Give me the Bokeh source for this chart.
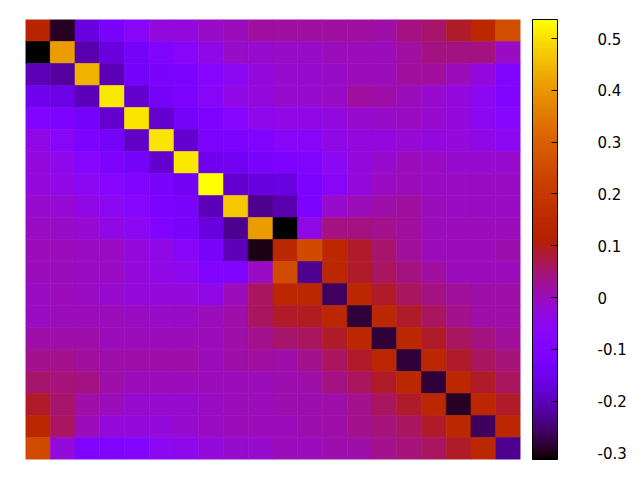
import math
from bokeh.plotting import figure
from bokeh.models import ColumnDataSource, LinearColorMapper, ColorBar, FixedTicker
from bokeh.transform import transform
from bokeh.embed import file_html
from bokeh.resources import INLINE

row00 = [0.13, -0.29, -0.17, -0.12, -0.07, -0.03, -0.03, -0.01, 0.0, 0.02, 0.02, 0.02, 0.02, 0.02, 0.015, 0.04, 0.055, 0.09, 0.14, 0.26]
row01 = [-0.313, 0.41, -0.21, -0.17, -0.13, -0.10, -0.07, -0.04, -0.01, -0.015, -0.01, -0.01, 0.0, 0.0, 0.0, 0.02, 0.04, 0.04, 0.04, -0.005]
row02 = [-0.20, -0.22, 0.44, -0.20, -0.13, -0.12, -0.11, -0.08, -0.055, -0.03, -0.015, -0.015, -0.01, 0.0, 0.0, 0.02, 0.02, 0.0, -0.03, -0.10]
row03 = [-0.15, -0.16, -0.20, 0.51, -0.18, -0.13, -0.11, -0.07, -0.04, -0.03, -0.015, -0.015, -0.01, 0.02, 0.015, 0.0, -0.015, -0.03, -0.055, -0.10]
row04 = [-0.10, -0.11, -0.13, -0.18, 0.505, -0.18, -0.13, -0.11, -0.08, -0.045, -0.04, -0.04, -0.03, -0.015, -0.01, -0.005, -0.015, -0.03, -0.055, -0.08]
row05 = [-0.04, -0.07, -0.11, -0.13, -0.19, 0.505, -0.18, -0.11, -0.11, -0.10, -0.07, -0.07, -0.04, -0.03, -0.03, -0.02, -0.03, -0.025, -0.04, -0.055]
row06 = [-0.03, -0.045, -0.08, -0.11, -0.13, -0.18, 0.51, -0.15, -0.14, -0.12, -0.11, -0.10, -0.055, -0.03, -0.015, 0.0, -0.005, -0.015, -0.015, -0.015]
row07 = [-0.03, -0.04, -0.055, -0.08, -0.10, -0.12, -0.14, 0.537, -0.18, -0.17, -0.165, -0.11, -0.07, -0.03, -0.005, 0.0, -0.005, -0.005, -0.005, -0.005]
row08 = [-0.015, -0.02, -0.04, -0.055, -0.08, -0.11, -0.12, -0.20, 0.47, -0.23, -0.21, -0.11, -0.015, 0.0, 0.015, 0.02, 0.0, -0.005, -0.005, -0.005]
row09 = [-0.005, -0.01, -0.02, -0.04, -0.055, -0.10, -0.12, -0.17, -0.23, 0.41, -0.313, -0.04, 0.04, 0.04, 0.035, 0.02, 0.0, 0.0, 0.0, 0.0]
row10 = [0.0, 0.0, -0.005, -0.005, -0.03, -0.04, -0.07, -0.12, -0.20, -0.30, 0.14, 0.25, 0.14, 0.09, 0.055, 0.025, 0.0, 0.0, 0.0, 0.01]
row11 = [0.0, 0.0, -0.005, -0.005, -0.025, -0.04, -0.05, -0.10, -0.10, -0.005, 0.25, -0.23, 0.14, 0.09, 0.06, 0.04, 0.02, 0.0, 0.0, 0.0]
row12 = [-0.005, 0.0, -0.005, -0.015, -0.025, -0.025, -0.025, -0.04, 0.0, 0.06, 0.14, 0.14, -0.26, 0.14, 0.09, 0.06, 0.04, 0.025, 0.015, 0.015]
row13 = [-0.005, 0.0, 0.0, 0.0, -0.005, -0.01, -0.01, 0.0, 0.015, 0.06, 0.09, 0.095, 0.14, -0.28, 0.14, 0.09, 0.06, 0.035, 0.015, 0.015]
row14 = [0.015, 0.015, 0.015, 0.0, 0.0, 0.0, 0.0, 0.0, 0.015, 0.035, 0.055, 0.06, 0.09, 0.14, -0.28, 0.14, 0.09, 0.06, 0.04, 0.025]
row15 = [0.035, 0.035, 0.02, 0.015, 0.015, 0.015, 0.015, 0.0, 0.015, 0.02, 0.015, 0.035, 0.06, 0.09, 0.14, -0.28, 0.14, 0.09, 0.06, 0.045]
row16 = [0.055, 0.045, 0.04, 0.015, 0.0, 0.0, 0.0, 0.0, 0.0, 0.0, 0.01, 0.015, 0.04, 0.06, 0.09, 0.14, -0.28, 0.14, 0.09, 0.06]
row17 = [0.09, 0.055, 0.015, 0.0, -0.015, -0.015, -0.015, -0.005, 0.0, 0.0, 0.01, 0.01, 0.015, 0.035, 0.06, 0.09, 0.14, -0.29, 0.14, 0.09]
row18 = [0.14, 0.06, 0.0, -0.025, -0.025, -0.025, -0.015, -0.005, 0.0, 0.0, 0.0, 0.01, 0.015, 0.035, 0.045, 0.06, 0.09, 0.14, -0.26, 0.14]
row19 = [0.25, -0.025, -0.10, -0.10, -0.085, -0.055, -0.045, -0.025, -0.015, -0.015, 0.0, 0.0, 0.01, 0.015, 0.035, 0.045, 0.06, 0.09, 0.14, -0.23]

rows = [row00, row01, row02, row03, row04, row05, row06, row07, row08, row09,
        row10, row11, row12, row13, row14, row15, row16, row17, row18, row19]

cb_ticks = [-0.3, -0.2, -0.1, 0.0, 0.1, 0.2, 0.3, 0.4, 0.5]
cb_labels = ["-0.3", "-0.2", "-0.1", "0", "0.1", "0.2", "0.3", "0.4", "0.5"]
cb_low, cb_high = -0.3127, 0.5367

# gnuplot default pm3d palette (rgbformulae 7,5,15)
def gp_color(t):
    r = math.sqrt(t)
    g = t ** 3
    b = max(0.0, math.sin(2 * math.pi * t))
    return "#%02x%02x%02x" % (int(round(r * 255)), int(round(g * 255)), int(round(b * 255)))

palette = [gp_color(i / 255) for i in range(256)]

n = len(rows)
xs, ys, vs = [], [], []
for i, r in enumerate(rows):
    for j, v in enumerate(r):
        xs.append(j + 0.5)
        ys.append(n - i - 0.5)
        vs.append(v)
src = ColumnDataSource(dict(x=xs, y=ys, v=vs))

mapper = LinearColorMapper(palette=palette, low=cb_low, high=cb_high)

p = figure(width=632, height=472, output_backend="svg", toolbar_location=None,
           x_range=(0, n), y_range=(0, n),
           x_axis_location=None, y_axis_location=None,
           min_border_left=25, min_border_right=112, min_border_top=19, min_border_bottom=13)
p.grid.visible = False
p.outline_line_color = None
p.background_fill_color = "white"

p.rect(x="x", y="y", width=1, height=1, source=src,
       fill_color=transform("v", mapper), line_color=transform("v", mapper), line_width=0.6)

cb = ColorBar(color_mapper=mapper, location=(507, 0), width=25, height=440,
              margin=0, padding=0,
              ticker=FixedTicker(ticks=cb_ticks),
              major_label_overrides={t: l for t, l in zip(cb_ticks, cb_labels)},
              major_label_text_font="DejaVu Sans", major_label_text_font_size="15px",
              major_label_text_color="black", major_label_text_align="right",
              major_tick_in=6, major_tick_out=0, major_tick_line_color="black",
              label_standoff=40,
              bar_line_color="black", bar_line_width=1,
              border_line_color=None, background_fill_alpha=0)
p.add_layout(cb)

open("out.html", "w").write(file_html(p, INLINE))
